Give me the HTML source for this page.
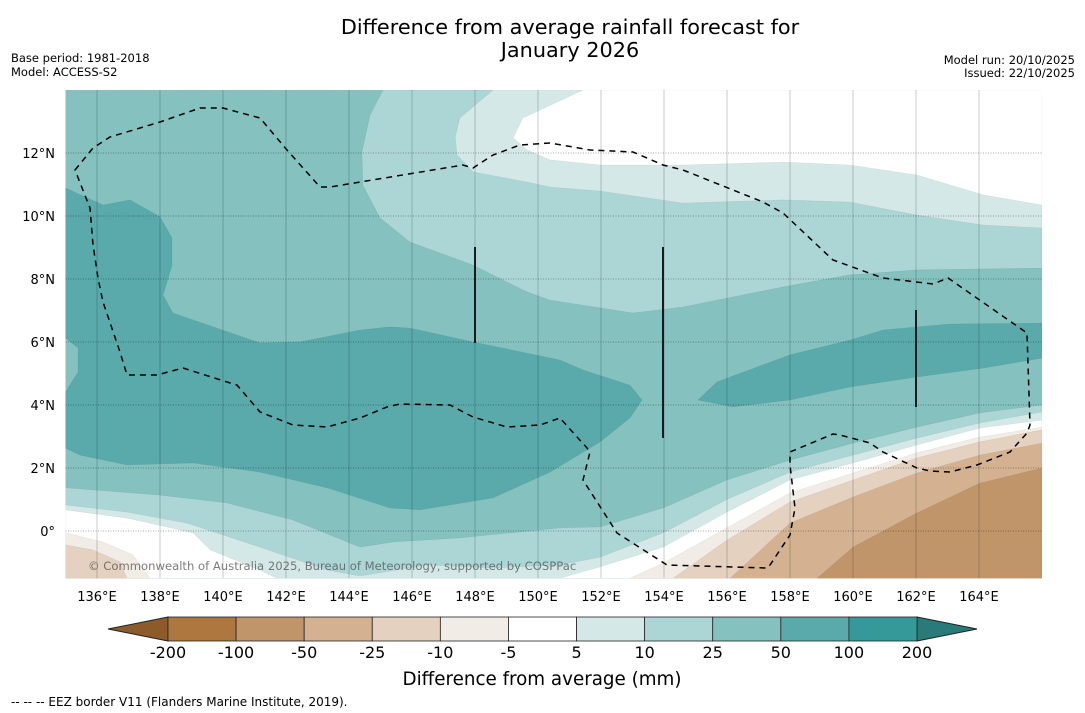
<!DOCTYPE html>
<html><head><meta charset="utf-8"><style>
body{margin:0;background:#fff;}
svg{display:block;font-family:"DejaVu Sans","Liberation Sans",sans-serif;}
</style></head><body>
<svg id="chart" width="1085" height="713" viewBox="0 0 1085 713" xmlns="http://www.w3.org/2000/svg">
<text x="570" y="34" font-size="20.8" text-anchor="middle">Difference from average rainfall forecast for</text>
<text x="570" y="57" font-size="20.8" text-anchor="middle">January 2026</text>
<text x="11" y="62" font-size="11.5">Base period: 1981-2018</text>
<text x="11" y="76" font-size="11.5">Model: ACCESS-S2</text>
<text x="1075" y="64" font-size="11.5" text-anchor="end">Model run: 20/10/2025</text>
<text x="1075" y="77" font-size="11.5" text-anchor="end">Issued: 22/10/2025</text>
<defs><clipPath id="mapclip"><rect x="65.5" y="90" width="976.5" height="488.25"/></clipPath></defs>
<g id="map" clip-path="url(#mapclip)"></g>
<g id="axes"></g>
<g id="cbar"></g>
<text x="542" y="685" font-size="18.3" text-anchor="middle">Difference from average (mm)</text>
<text x="11" y="706" font-size="12">--  --  -- EEZ border V11 (Flanders Marine Institute, 2019).</text>
</svg>
<script>
const NS='http://www.w3.org/2000/svg';
const lonTicks=[136,138,140,142,144,146,148,150,152,154,156,158,160,162,164];
const latTicks=[0,2,4,6,8,10,12];
const latLabels=['0°','2°N','4°N','6°N','8°N','10°N','12°N'];
const cbarLabels=['-200','-100','-50','-25','-10','-5','5','10','25','50','100','200'];
const cbarColors=['#ae773f','#c0956a','#d4b291','#e5d1bf','#f2ece7','#ffffff','#d4e8e7','#acd6d5','#84c1bf','#5aaaab','#35999a'];
// contour band polygons [lon,lat]
const band10to25Top=[[145.08,14],[166,14],[166,8.35],[162.03,8.29],[159.9,8.13],[157.78,7.75],[154.6,7.11],[153.02,6.92],[150.38,7.33],[149.65,7.59],[147.94,8.44],[145.94,9.17],[144.98,9.94],[144.44,10.98],[144.41,12.03],[144.67,13.21]];
const band5to10Top=[[148.57,14],[166,14],[166,9.62],[164.13,9.71],[162.03,10.03],[159.9,10.44],[157.78,10.51],[154.6,10.41],[151.97,10.79],[150.38,10.92],[149.65,11.08],[147.94,11.4],[147.43,11.94],[147.37,12.51],[147.52,13.11]];
const bandNeutralTop=[[151.43,14],[166,14],[166,10.35],[164.13,10.67],[162.03,11.3],[159.9,11.62],[157.78,11.71],[154.6,11.62],[151.97,11.62],[150.38,11.78],[149.65,12.1],[149.21,12.48],[149.52,13.11]];
const band50to100Main=[[135,10.89],[136.19,10.35],[137.05,10.51],[138,9.97],[138.38,9.3],[138.38,8.44],[138.1,7.49],[138.41,6.92],[141.17,5.97],[142.44,6.0],[144.35,6.38],[145.3,6.48],[145.94,6.44],[147.94,6.0],[150.7,5.43],[151.43,5.11],[152.92,4.63],[153.3,4.16],[152.92,3.59],[151.97,2.83],[150.38,1.87],[148.57,1.05],[146.25,0.67],[145.3,0.73],[143.3,1.37],[141.17,1.87],[139.05,2.16],[136.95,2.1],[135.46,2.41],[135,2.63],[135,4.41],[135.4,5.05],[135.4,5.81],[135,6.13]];
const band50to100East=[[155.08,4.16],[155.68,4.73],[158,5.59],[159.9,6.06],[160.95,6.38],[163.08,6.57],[166,6.6],[166,5.49],[164.13,5.17],[162.03,4.89],[159.9,4.57],[158,4.16],[156.19,3.94]];
const band10to25South=[[135,1.37],[138,1.14],[140.13,0.89],[142.22,0.35],[144.35,-0.51],[145.4,-0.35],[147.52,-0.22],[150.7,0.1],[151.97,0.13],[153.97,0.73],[156,1.62],[158,2.25],[160,2.79],[162.03,3.3],[164.03,3.75],[166,4.0],[166,-1.5],[135,-1.5]];
const band5to10South=[[135,0.83],[136.95,0.6],[138.86,0.25],[141.17,-0.51],[143.3,-1.24],[144.35,-1.43],[146.48,-1.08],[148.57,-1.17],[150.7,-1.08],[151.97,-0.83],[153.97,-0.06],[156,1.0],[158,1.87],[160,2.41],[162.03,2.95],[164.03,3.43],[166,3.78],[166,-1.5],[135,-1.5]];
const bandNeutralSW=[[135,0.67],[136.95,0.41],[139.05,-0.06],[139.59,-0.6],[141.17,-1.24],[141.71,-1.5],[135,-1.5]];
const bandNeutralSE=[[150.7,-1.5],[151.97,-1.14],[153.97,-0.51],[156,0.6],[158,1.62],[160,2.16],[162.03,2.73],[164.03,3.27],[166,3.52],[166,-1.5]];
const bandM5to10SE=[[152.92,-1.5],[153.97,-1.02],[156,0.1],[158,1.21],[160,1.84],[162.03,2.48],[164.03,2.98],[166,3.3],[166,-1.5]];
const bandM10to25SE=[[154.29,-1.5],[156,-0.29],[158,0.92],[160,1.62],[162.03,2.32],[164.03,2.83],[166,3.21],[166,-1.5]];
const bandM25to50SE=[[156.1,-1.5],[158,0.25],[160,1.08],[162.03,1.84],[164.03,2.41],[166,2.79],[166,-1.5]];
const bandM50to100SE=[[158.86,-1.5],[160,-0.51],[162.03,0.57],[164.03,1.52],[166,2.0],[166,-1.5]];
const bandM5to10SW=[[135,-0.06],[136.19,-0.35],[137.14,-0.76],[137.68,-1.5],[135,-1.5]];
const bandM10to25SW=[[135,-0.44],[135.87,-0.6],[136.73,-0.98],[136.95,-1.5],[135,-1.5]];

function x(lon){return 65.5+(lon-135)*31.5;}
function y(lat){return 531-lat*31.5;}
function mk(tag,attrs,parent){const e=document.createElementNS(NS,tag);for(const k in attrs)e.setAttribute(k,attrs[k]);parent.appendChild(e);return e;}
const map=document.getElementById('map');
const axes=document.getElementById('axes');
const cbar=document.getElementById('cbar');

let bg=mk('rect',{x:65.5,y:90,width:976.5,height:488.25,fill:'#84c1bf'},map);


const layers=[
 [band10to25Top,'#acd6d5','band-10-to-25-north'],
 [band5to10Top,'#d4e8e7','band-5-to-10-north'],
 [bandNeutralTop,'#ffffff','band-neutral-north'],
 [band10to25South,'#acd6d5','band-10-to-25-south'],
 [band5to10South,'#d4e8e7','band-5-to-10-south'],
 [bandNeutralSW,'#ffffff','band-neutral-southwest'],
 [bandNeutralSE,'#ffffff','band-neutral-southeast'],
 [bandM5to10SE,'#f2ece7','band-minus5-to-minus10-southeast'],
 [bandM10to25SE,'#e5d1bf','band-minus10-to-minus25-southeast'],
 [bandM25to50SE,'#d4b291','band-minus25-to-minus50-southeast'],
 [bandM50to100SE,'#c0956a','band-minus50-to-minus100-southeast'],
 [bandM5to10SW,'#f2ece7','band-minus5-to-minus10-southwest'],
 [bandM10to25SW,'#e5d1bf','band-minus10-to-minus25-southwest'],
 [band50to100Main,'#5aaaab','band-50-to-100-main'],
 [band50to100East,'#5aaaab','band-50-to-100-east']
];
layers.forEach(L=>{
 const pts=L[0].map(p=>x(p[0]).toFixed(1)+','+y(p[1]).toFixed(1)).join(' ');
 const p=mk('polygon',{points:pts,fill:L[1],stroke:'rgba(0,0,0,0.07)','stroke-width':0.6},map);
 
 
});
// gridlines
lonTicks.forEach(v=>{
 const l=mk('line',{x1:x(v),x2:x(v),y1:90,y2:578.25,stroke:'rgba(0,30,30,0.22)','stroke-width':1},map);
 
 
});
latTicks.forEach(v=>{
 const l=mk('line',{x1:65.5,x2:1042,y1:y(v),y2:y(v),stroke:'rgba(0,0,0,0.45)','stroke-width':0.8,'stroke-dasharray':'1,1.5'},map);
 
 
});
// EEZ border (basemap)
const eez=mk('path',{d:'M75,170 L93,148 L110,137 L160,122 L200,108 L223,108 L260,118 L287,150 L320,187 L330,187 L463,165 L473,168 L493,155 L520,145 L550,143 L590,150 L633,152 L663,165 L683,170 L763,202 L783,213 L833,260 L883,278 L933,284 L948,278 L1027,333 L1030,425 L1027,433 L1010,452 L977,465 L950,472 L930,471 L917,468 L883,452 L870,443 L840,435 L833,434 L790,452 L790,465 L795,508 L790,535 L770,565 L767,568 L667,565 L617,533 L583,480 L590,452 L587,448 L560,418 L540,425 L507,427 L473,417 L450,405 L400,404 L387,407 L360,418 L327,427 L293,425 L260,412 L237,385 L227,382 L183,368 L157,375 L127,375 L120,352 L103,302 L98,278 L93,245 L90,208 Z',fill:'none',stroke:'#000','stroke-width':1.5,'stroke-dasharray':'6,5'},map);


[[475,247,343],[663,247,438],[916,310,407]].forEach(s=>{
 const l=mk('line',{x1:s[0],x2:s[0],y1:s[1],y2:s[2],stroke:'#1a1a1a','stroke-width':2},map);
 
 
});
const cp=mk('text',{x:88,y:570,'font-size':11.6,fill:'rgba(80,80,80,0.75)'},map);
cp.textContent='© Commonwealth of Australia 2025, Bureau of Meteorology, supported by COSPPac';


// tick labels
lonTicks.forEach(v=>{
 const t=mk('text',{x:x(v),y:601,'font-size':13,'text-anchor':'middle'},axes);
 t.textContent=v+'°E';
 
 
});
latTicks.forEach((v,i)=>{
 const t=mk('text',{x:55,y:y(v)+5,'font-size':13,'text-anchor':'end'},axes);
 t.textContent=latLabels[i];
 
 
});
// colorbar
const cx0=168,cx1=917,cy0=617,cy1=641,n=cbarColors.length,w=(cx1-cx0)/n;
let tl=mk('polygon',{points:'108,629 '+cx0+','+cy0+' '+cx0+','+cy1,fill:'#8d5a2a',stroke:'#222','stroke-width':1},cbar);


let tr=mk('polygon',{points:'977,629 '+cx1+','+cy0+' '+cx1+','+cy1,fill:'#2a7a7a',stroke:'#222','stroke-width':1},cbar);


cbarColors.forEach((c,i)=>{
 const r=mk('rect',{x:cx0+i*w,y:cy0,width:w,height:cy1-cy0,fill:c,stroke:'#222','stroke-width':0.8},cbar);
 
 
});
cbarLabels.forEach((s,i)=>{
 const t=mk('text',{x:cx0+i*w,y:658,'font-size':16,'text-anchor':'middle'},cbar);
 t.textContent=s;
 
 
});
</script>
</body></html>
